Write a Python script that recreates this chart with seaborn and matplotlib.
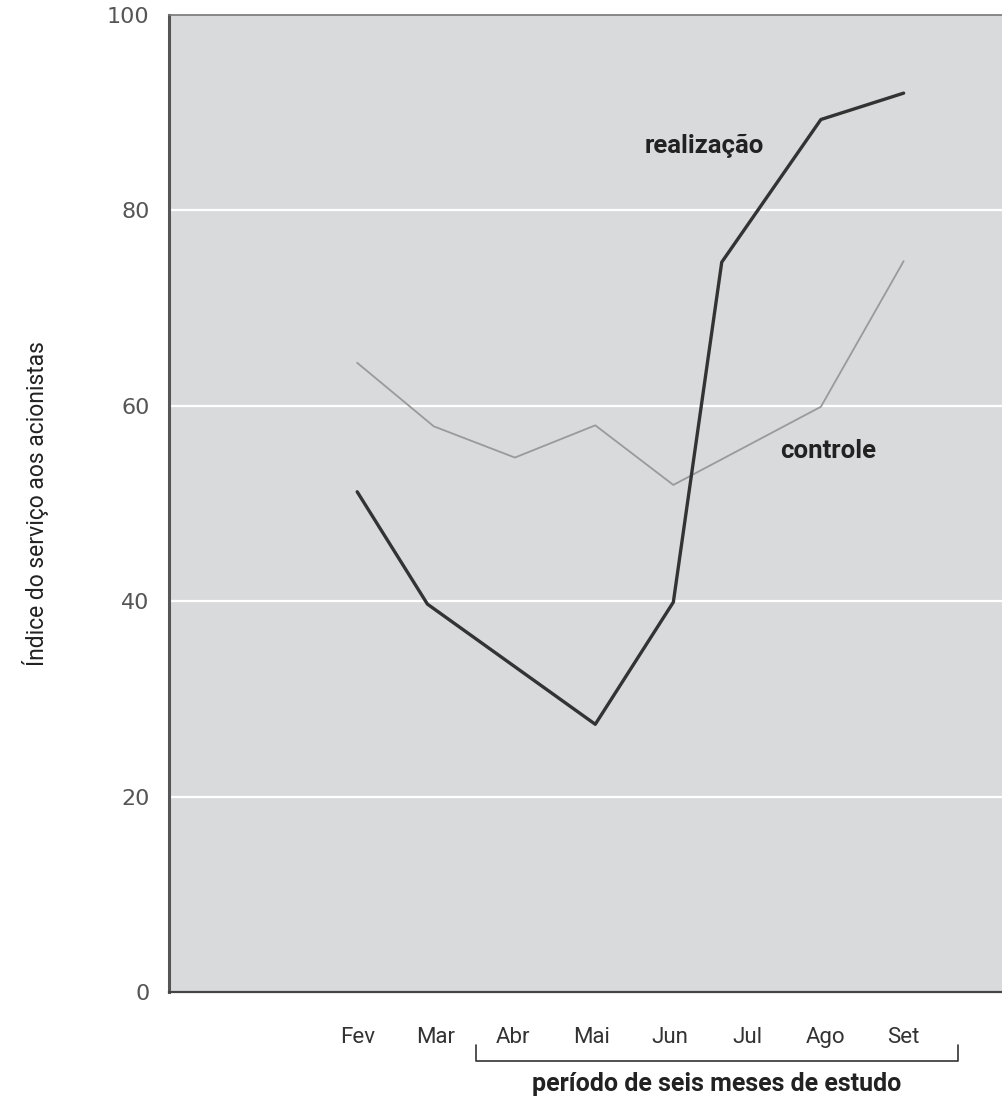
import matplotlib
matplotlib.use("Agg")
import matplotlib.pyplot as plt
import seaborn as sns
import pandas as pd

# Month labels along the x axis (position = index)
months = ["Fev", "Mar", "Abr", "Mai", "Jun", "Jul", "Ago", "Set"]

# Series: month position and index value
realizacao_x = [0, 0.9, 3.05, 4.05, 4.67, 5.94, 7]
realizacao_y = [51.2, 39.7, 27.4, 39.9, 74.7, 89.3, 92.0]

controle_x = [0, 0.98, 2.02, 3.05, 4.05, 5.94, 7]
controle_y = [64.4, 57.9, 54.7, 58.0, 51.9, 59.9, 74.8]

y_ticks = [0, 20, 40, 60, 80, 100]

sns.set_theme(style="white")
text_font = ["Roboto", "DejaVu Sans"]
plt.rcParams["font.family"] = text_font

fig = plt.figure(figsize=(10.02, 11.01), dpi=100)
ax = fig.add_axes([0.1687, 0.0990, 0.8313, 0.8874])
ax.set_facecolor("#d9dadc")

df_r = pd.DataFrame({"mes": realizacao_x, "indice": realizacao_y})
df_c = pd.DataFrame({"mes": controle_x, "indice": controle_y})

sns.lineplot(data=df_c, x="mes", y="indice", ax=ax, color="#9a9a9a",
             linewidth=1.3, sort=False)
sns.lineplot(data=df_r, x="mes", y="indice", ax=ax, color="#333333",
             linewidth=2.4, sort=False)

ax.set_xlim(-2.41, 8.26)
ax.set_ylim(0, 100)

# White horizontal gridlines
for v in y_ticks[1:-1]:
    ax.axhline(v, color="white", linewidth=1.6, zorder=1)

ax.set_yticks(y_ticks)
ax.set_yticklabels([str(v) for v in y_ticks], family="DejaVu Sans",
                   fontsize=16, color="#555555")
ax.set_xticks(range(len(months)))
ax.set_xticklabels(months, fontsize=16, color="#333333")
ax.tick_params(axis="both", length=0)
ax.tick_params(axis="y", pad=14)
ax.tick_params(axis="x", pad=25)

ax.set_xlabel("")
ax.set_ylabel("Índice do serviço aos acionistas", fontsize=16.5,
              color="#222222", labelpad=42)

for side in ["left", "bottom", "top"]:
    ax.spines[side].set_visible(True)
ax.spines["right"].set_visible(False)
ax.spines["left"].set_color("#555555")
ax.spines["left"].set_linewidth(2.2)
ax.spines["bottom"].set_color("#444444")
ax.spines["bottom"].set_linewidth(1.6)
ax.spines["top"].set_color("#777777")
ax.spines["top"].set_linewidth(1.2)

# Series labels
ax.text(4.45, 86.6, "realização", fontsize=18.5, fontweight="bold",
        color="#222222", ha="center", va="center")
ax.text(6.03, 55.4, "controle", fontsize=18.5, fontweight="bold",
        color="#222222", ha="center", va="center")

# Bracket marking the six-month study period
bx0, bx1 = 1.52, 7.70
trans = ax.get_xaxis_transform()
ax.plot([bx0, bx0, bx1, bx1], [-0.054, -0.071, -0.071, -0.054],
        transform=trans, color="#333333", linewidth=1.2, clip_on=False)
ax.text((bx0 + bx1) / 2, -0.094, "período de seis meses de estudo",
        transform=trans, fontsize=18, fontweight="bold", color="#222222",
        ha="center", va="center")

fig.savefig("out.png", dpi=100)
